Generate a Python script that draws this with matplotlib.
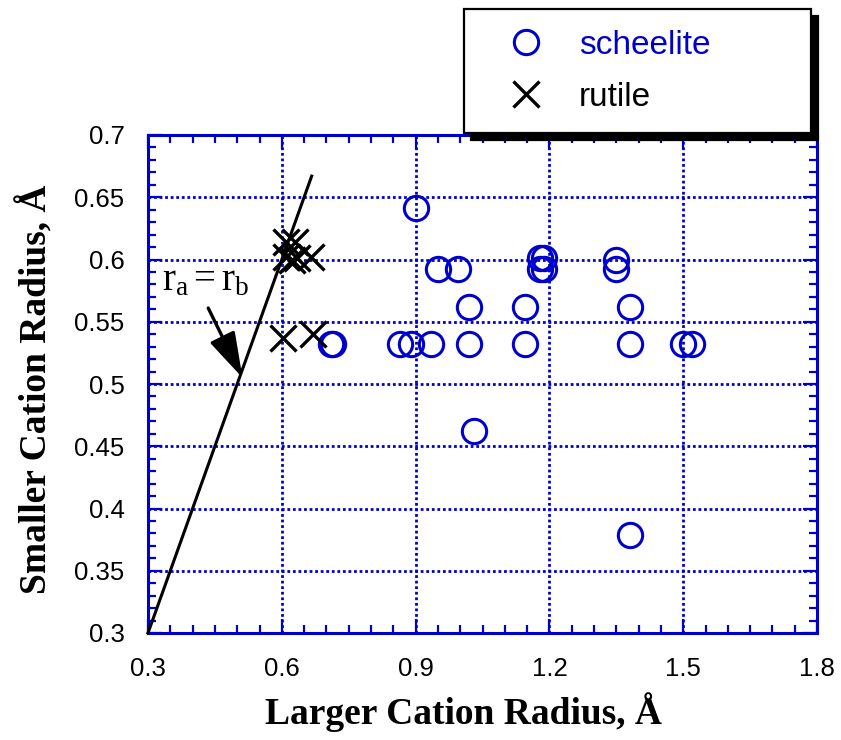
import matplotlib
matplotlib.use("Agg")
import matplotlib.pyplot as plt
from matplotlib.ticker import MultipleLocator

# ---- data ----
scheelite_x = [0.90, 0.95, 0.995, 1.02, 1.02, 0.71, 0.715, 0.865, 0.89, 0.935,
               1.145, 1.145, 1.178, 1.189, 1.178, 1.189, 1.35, 1.35,
               1.38, 1.38, 1.50, 1.52, 1.03, 1.38]
scheelite_y = [0.641, 0.592, 0.592, 0.562, 0.532, 0.532, 0.532, 0.532, 0.532, 0.532,
               0.562, 0.532, 0.601, 0.601, 0.592, 0.592, 0.600, 0.592,
               0.562, 0.532, 0.532, 0.532, 0.462, 0.379]
rutile_x = [0.610, 0.630, 0.610, 0.622, 0.635, 0.665, 0.602, 0.670]
rutile_y = [0.614, 0.614, 0.602, 0.600, 0.601, 0.602, 0.537, 0.540]
line_x = [0.3, 0.667]
line_y = [0.3, 0.667]
xticks = [0.3, 0.6, 0.9, 1.2, 1.5, 1.8]
yticks = [0.3, 0.35, 0.4, 0.45, 0.5, 0.55, 0.6, 0.65, 0.7]
xtick_labels = ["0.3", "0.6", "0.9", "1.2", "1.5", "1.8"]
ytick_labels = ["0.3", "0.35", "0.4", "0.45", "0.5", "0.55", "0.6", "0.65", "0.7"]

BLUE = "#0000cc"

plt.rcParams["font.family"] = ["Liberation Sans", "DejaVu Sans"]
plt.rcParams["mathtext.fontset"] = "custom"
plt.rcParams["mathtext.rm"] = "Liberation Serif"
plt.rcParams["mathtext.it"] = "Liberation Serif:italic"

fig = plt.figure(figsize=(8.41, 7.40), dpi=100)
ax = fig.add_axes([148/841, 1-633/740, (817-148)/841, (633-135)/740])

ax.plot(scheelite_x, scheelite_y, linestyle="none", marker="o", ms=17.5, mew=2.2,
        mfc="none", color=BLUE, label="scheelite", zorder=4, clip_on=False)
ax.plot(rutile_x, rutile_y, linestyle="none", marker="x", ms=19, mew=2.4,
        color="black", label="rutile", zorder=5, clip_on=False)
ax.plot(line_x, line_y, color="black", lw=2.2, zorder=3, clip_on=False)

ax.annotate("", xy=(0.512, 0.505), xytext=(0.435, 0.561),
            arrowprops=dict(arrowstyle="-|>,head_length=1.4,head_width=0.42",
                            mutation_scale=20, color="black", lw=2.4,
                            shrinkA=0, shrinkB=0), zorder=6)
ax.text(0.331, 0.575, r"$\mathrm{r_a = r_b}$", fontsize=28, ha="left",
        va="baseline", color="black", zorder=6)

ax.set_xlim(0.3, 1.8)
ax.set_ylim(0.3, 0.7)
ax.set_xticks(xticks)
ax.set_xticklabels(xtick_labels)
ax.set_yticks(yticks)
ax.set_yticklabels(ytick_labels)
ax.xaxis.set_minor_locator(MultipleLocator(0.05))
ax.yaxis.set_minor_locator(MultipleLocator(0.01))
ax.tick_params(which="both", direction="in", top=True, right=True,
               color=BLUE, width=1.6, labelsize=18.5, labelcolor="black")
ax.tick_params(which="major", length=10, pad=17)
ax.tick_params(which="minor", length=6)
for s in ax.spines.values():
    s.set_color(BLUE)
    s.set_linewidth(2.2)
ax.grid(True, which="major", color=BLUE, linestyle=(0, (1, 1)), linewidth=2.0)
ax.set_axisbelow(True)

ax.set_xlabel("Larger Cation Radius, Å", fontsize=27, fontweight="bold",
              family="Liberation Serif")
ax.set_ylabel("Smaller Cation Radius, Å", fontsize=27, fontweight="bold",
              family="Liberation Serif")
ax.xaxis.set_label_coords(0.471, -0.159)
ax.yaxis.set_label_coords(-0.168, 0.49)
ax.xaxis.label.set_va("center")
ax.yaxis.label.set_va("center")

leg = ax.legend(loc="upper left",
                bbox_to_anchor=(464/841, 1-9/740, 347/841, 0),
                bbox_transform=fig.transFigure, mode="expand",
                borderaxespad=0, fontsize=24, frameon=True, fancybox=False,
                framealpha=1, edgecolor="black", borderpad=0.62,
                handlelength=2.45, handletextpad=0.38, labelspacing=0.63,
                labelcolor="linecolor",
                shadow={"ox": 5, "oy": -5, "color": "black", "alpha": 1})
leg.get_frame().set_linewidth(1.6)
leg.set_zorder(10)

fig.savefig("out.png", dpi=100)
